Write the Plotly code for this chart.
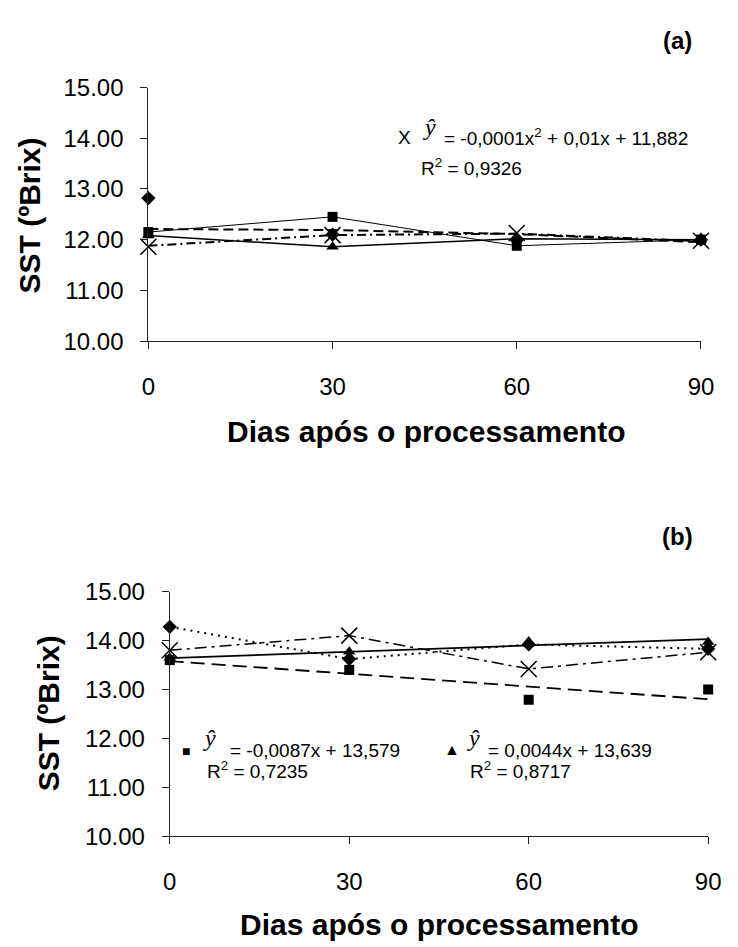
import plotly.graph_objects as go

W, H = 738, 947

days = [0, 30, 60, 90]
tick_vals_y = [10, 11, 12, 13, 14, 15]

# Panel (a) values (ºBrix)
a_diamond = [12.82, 12.10, 12.00, 12.00]
a_square = [12.15, 12.45, 11.88, 12.00]
a_triangle = [12.08, 11.86, 12.02, 12.00]
a_x = [11.86, 12.09, 12.13, 11.98]
a_x_trend = [11.88, 12.09, 12.12, 11.97]
a_dashed = [12.21, 12.19, 12.11, 11.95]

# Panel (b) values (ºBrix)
b_diamond = [14.28, 13.62, 13.92, 13.83]
b_square = [13.60, 13.40, 12.79, 13.00]
b_triangle = [13.65, 13.77, 13.98, 13.97]
b_x = [13.80, 14.10, 13.42, 13.76]
b_square_trend = [13.58, 13.32, 13.06, 12.80]
b_triangle_trend = [13.64, 13.77, 13.90, 14.03]

FONT = "Liberation Sans, Arial, sans-serif"
SERIF = "Liberation Serif, Times New Roman, serif"

fig = go.Figure()


def line(x, y, ax, dash, width):
    fig.add_trace(go.Scatter(x=x, y=y, mode="lines", xaxis=ax[0], yaxis=ax[1],
                             line=dict(color="black", dash=dash, width=width),
                             cliponaxis=False, showlegend=False, hoverinfo="skip"))


def marks(x, y, ax, symbol, size, lw=0):
    m = dict(symbol=symbol, size=size, color="black")
    if lw:
        m["line"] = dict(width=lw, color="black")
    fig.add_trace(go.Scatter(x=x, y=y, mode="markers", xaxis=ax[0], yaxis=ax[1],
                             marker=m, cliponaxis=False, showlegend=False))


A = ("x", "y")
B = ("x2", "y2")

# panel (a)
line(days, a_dashed, A, "10px,5px", 2)
line(days, a_x_trend, A, "9px,4px,2px,4px", 2)
line(days, a_square, A, "solid", 1)
line(days, a_triangle, A, "solid", 1.5)
marks(days, a_diamond, A, "diamond", 11)
marks(days, a_triangle, A, "triangle-up", 11)
marks(days, a_square, A, "square", 10)
marks(days, a_x, A, "x-thin-open", 16, 1.5)

# panel (b)
line(days, b_diamond, B, "2px,5px", 2)
line(days, b_x, B, "12px,5px,3px,5px", 1.5)
line(days, b_square_trend, B, "14px,7px", 1.8)
line(days, b_triangle_trend, B, "solid", 1.8)
marks(days, b_diamond, B, "diamond", 11)
marks(days, b_triangle, B, "triangle-up", 11)
marks(days, b_square, B, "square", 10)
marks(days, b_x, B, "x-thin-open", 16, 1.5)


def px(x):
    return x / W


def py(y):
    return 1 - y / H


axis_common = dict(showgrid=False, zeroline=False, showline=True, linecolor="#222",
                   linewidth=1, ticks="outside", ticklen=7, tickcolor="#222",
                   tickfont=dict(family=FONT, size=24, color="black"))

fig.update_layout(
    width=W, height=H, margin=dict(l=0, r=0, t=0, b=0),
    paper_bgcolor="white", plot_bgcolor="white",
    xaxis=dict(domain=[px(145.3), px(713.3)], range=[0, 90], tickvals=days,
               anchor="y", ticklabelstandoff=17, **axis_common),
    yaxis=dict(domain=[py(336.7), py(75.7)], range=[10, 15], tickvals=tick_vals_y,
               tickformat=".2f", anchor="x", ticklabelstandoff=12, **axis_common),
    xaxis2=dict(domain=[px(167.3), px(720.7)], range=[0, 90], tickvals=days,
                anchor="y2", ticklabelstandoff=17, **axis_common),
    yaxis2=dict(domain=[py(846.5), py(594.5)], range=[10, 15], tickvals=tick_vals_y,
                tickformat=".2f", anchor="x2", ticklabelstandoff=12, **axis_common),
)


def ann(text, x, y, size, family=FONT, xanchor="center", yanchor="middle",
        textangle=0, bold=False):
    if bold:
        text = "<b>" + text + "</b>"
    fig.add_annotation(text=text, x=px(x), y=py(y), xref="paper", yref="paper",
                       showarrow=False, xanchor=xanchor, yanchor=yanchor,
                       textangle=textangle,
                       font=dict(family=family, size=size, color="black"))


# titles
ann("(a)", 689, 27, 24, bold=True)
ann("(b)", 689, 538, 24, bold=True)
ann("SST (ºBrix)", 23, 207, 30, textangle=-90, bold=True)
ann("SST (ºBrix)", 43, 720, 30, textangle=-90, bold=True)
ann("Dias após o processamento", 431, 430, 30, bold=True)
ann("Dias após o processamento", 444, 937, 30, bold=True)

# equations panel (a)
ann("X", 409, 127, 19)
ann("<i>ŷ</i>", 434, 116, 24, family=SERIF)
ann("= -0,0001x<sup>2</sup> + 0,01x + 11,882", 447, 127, 19, xanchor="left")
ann("R<sup>2</sup> = 0,9326", 423, 157, 19, xanchor="left")

# equations panel (b)
ann("■", 184, 759, 14)
ann("<i>ŷ</i>", 208, 745, 24, family=SERIF)
ann("= -0,0087x + 13,579", 227, 758, 19, xanchor="left")
ann("R<sup>2</sup> = 0,7235", 204, 778, 19, xanchor="left")
ann("▲", 457, 757, 16)
ann("<i>ŷ</i>", 480, 745, 24, family=SERIF)
ann("= 0,0044x + 13,639", 492, 758, 19, xanchor="left")
ann("R<sup>2</sup> = 0,8717", 474, 778, 19, xanchor="left")

fig.write_html("out.html")
